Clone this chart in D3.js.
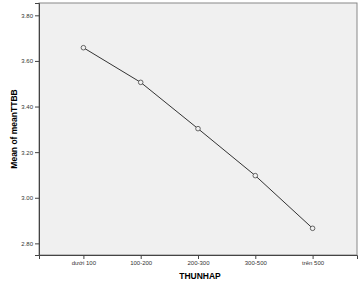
<!DOCTYPE html>
<html><head><meta charset="utf-8">
<script src="https://cdn.jsdelivr.net/npm/d3@7"></script>
<style>body{margin:0;background:#fff}svg{display:block}</style>
</head><body>
<script>
const categories = ["dưới 100", "100-200", "200-300", "300-500", "trên 500"];
const meanValues = [3.658, 3.506, 3.303, 3.097, 2.866];
const yTicks = [2.8, 3.0, 3.2, 3.4, 3.6, 3.8];
const xTitle = "THUNHAP";
const yTitle = "Mean of meanTTBB";

const W = 362, H = 290;
const m = {left: 39, right: 5, top: 3, bottom: 35};
const svg = d3.select("body").append("svg").attr("width", W).attr("height", H);
const pw = W - m.left - m.right, ph = H - m.top - m.bottom;
const g = svg.append("g").attr("transform", `translate(${m.left},${m.top})`);

const x = d3.scalePoint().domain(categories).range([0, pw]).padding(0.775);
const y = d3.scaleLinear().domain([2.749, 3.854]).range([ph, 0]);

g.append("rect").attr("width", pw).attr("height", ph).attr("fill", "#f0f0f0")
  .attr("stroke", "#888").attr("stroke-width", 1);

const yAxis = g.append("g").call(d3.axisLeft(y).tickValues(yTicks).tickFormat(d3.format(".2f")).tickSize(4).tickPadding(2));
yAxis.select(".domain").attr("stroke", "#444");
yAxis.selectAll(".tick line").attr("stroke", "#444");
yAxis.selectAll("text").attr("font-family", "Arial, Liberation Sans, sans-serif").attr("font-size", 6).attr("fill", "#333");

const xAxis = g.append("g").attr("transform", `translate(0,${ph})`)
  .call(d3.axisBottom(x).tickSize(4).tickPadding(2));
xAxis.select(".domain").attr("stroke", "#444");
xAxis.selectAll(".tick line").attr("stroke", "#444");
xAxis.selectAll("text").attr("font-family", "Arial, Liberation Sans, sans-serif").attr("font-size", 6).attr("fill", "#333");

const line = d3.line().x((d, i) => x(categories[i])).y(d => y(d));
g.append("path").datum(meanValues).attr("d", line).attr("fill", "none").attr("stroke", "#333").attr("stroke-width", 1);
g.selectAll("circle.pt").data(meanValues).join("circle").attr("class", "pt")
  .attr("cx", (d, i) => x(categories[i])).attr("cy", d => y(d)).attr("r", 2.3)
  .attr("fill", "#f0f0f0").attr("stroke", "#444").attr("stroke-width", 0.8);

svg.append("text").attr("x", m.left + pw / 2 + 2).attr("y", 279).attr("text-anchor", "middle")
  .attr("font-family", "Arial, Liberation Sans, sans-serif").attr("font-size", 8.5).attr("font-weight", "bold").text(xTitle);
svg.append("text").attr("transform", `translate(17,${m.top + ph / 2}) rotate(-90)`).attr("text-anchor", "middle")
  .attr("font-family", "Arial, Liberation Sans, sans-serif").attr("font-size", 8.5).attr("font-weight", "bold").text(yTitle);
</script>
</body></html>
